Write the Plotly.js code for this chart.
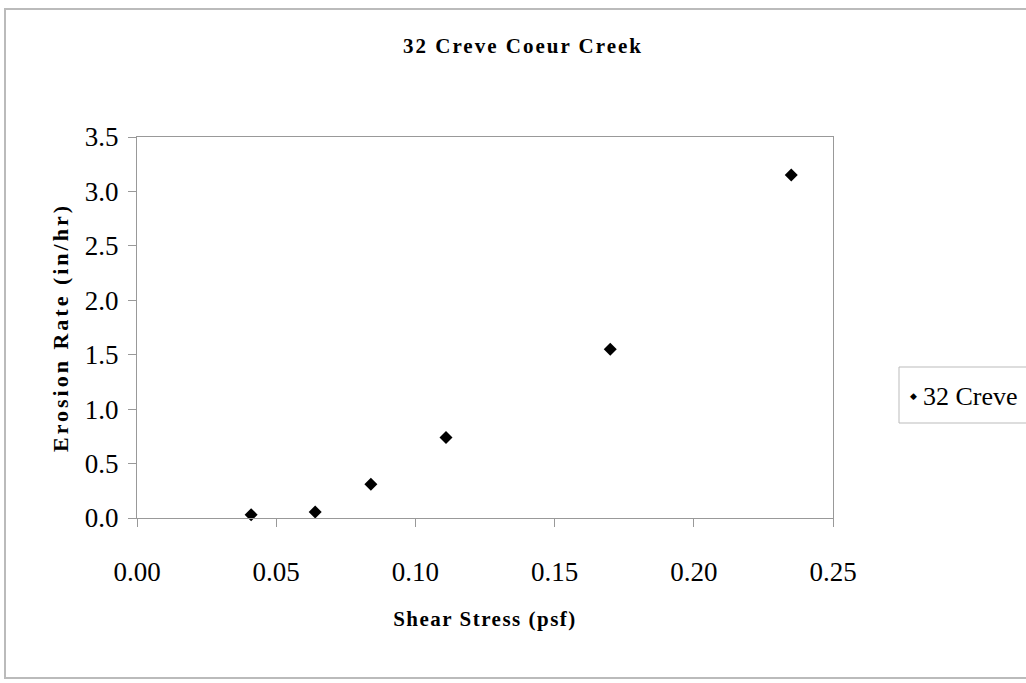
<!DOCTYPE html>
<html>
<head>
<meta charset="utf-8">
<script src="https://cdn.plot.ly/plotly-3.0.1.min.js"></script>
<style>
html,body{margin:0;padding:0;background:#fff;}
#chart{width:1026px;height:683px;}
.gtitle{letter-spacing:2px;}
.xtitle{letter-spacing:1.5px;}
.ytitle{letter-spacing:3px;}
</style>
</head>
<body>
<div id="chart"></div>
<script>
// Data
const seriesName = "32 Creve Coeur Creek";
const legendVisibleLabel = "32 Creve";   // the legend is cut at the page edge in the reference
const shearStress = [0.041, 0.064, 0.084, 0.111, 0.170, 0.235];   // psf
const erosionRate = [0.03, 0.055, 0.31, 0.74, 1.55, 3.15];          // in/hr
const xTickVals = [0, 0.05, 0.10, 0.15, 0.20, 0.25];
const xTickText = ["0.00", "0.05", "0.10", "0.15", "0.20", "0.25"];
const yTickVals = [0, 0.5, 1.0, 1.5, 2.0, 2.5, 3.0, 3.5];
const yTickText = ["0.0", "0.5", "1.0", "1.5", "2.0", "2.5", "3.0", "3.5"];

const W = 1026, H = 683;
const L = 137, R = 193, T = 137, B = 165;
const pw = W - L - R, ph = H - T - B;
const px = v => (v - L) / pw;          // pixel -> paper x
const py = v => (H - B - v) / ph;      // pixel -> paper y

const serif = "Liberation Serif";

const trace = {
  type: "scatter",
  mode: "markers",
  name: seriesName,
  x: shearStress,
  y: erosionRate,
  marker: {symbol: "diamond", size: 10, color: "#000"},
  showlegend: false,
  cliponaxis: false
};

const layout = {
  width: W, height: H,
  margin: {l: L, r: R, t: T, b: B, pad: 0},
  paper_bgcolor: "#fff",
  plot_bgcolor: "#fff",
  showlegend: false,
  title: {
    text: "<b>32 Creve Coeur Creek</b>",
    font: {family: serif, size: 21, color: "#000"},
    x: 523 / W, xanchor: "center",
    y: 1 - 46 / H, yanchor: "middle"
  },
  xaxis: {
    range: [0, 0.25],
    tickvals: xTickVals, ticktext: xTickText,
    ticks: "outside", ticklen: 8, tickcolor: "#999", tickwidth: 1,
    ticklabelstandoff: 22,
    showline: true, linecolor: "#999", linewidth: 1, mirror: true,
    showgrid: false, zeroline: false,
    tickfont: {family: serif, size: 27, color: "#000"},
    title: {text: "<b>Shear Stress (psf)</b>", font: {family: serif, size: 21, color: "#000"}, standoff: 24}
  },
  yaxis: {
    range: [0, 3.5],
    tickvals: yTickVals, ticktext: yTickText,
    ticks: "outside", ticklen: 8, tickcolor: "#999", tickwidth: 1,
    ticklabelstandoff: 4,
    showline: true, linecolor: "#999", linewidth: 1, mirror: true,
    showgrid: false, zeroline: false,
    tickfont: {family: serif, size: 27, color: "#000"},
    title: {text: "<b>Erosion Rate (in/hr)</b>", font: {family: serif, size: 22, color: "#000"}, standoff: 10}
  },
  shapes: [
    {type: "rect", xref: "paper", yref: "paper",
     x0: px(5), x1: px(1040), y0: py(678), y1: py(9),
     line: {color: "#bbb", width: 2}, fillcolor: "rgba(0,0,0,0)", layer: "below"},
    {type: "rect", xref: "paper", yref: "paper",
     x0: px(899), x1: px(1040), y0: py(423), y1: py(367),
     line: {color: "#bbb", width: 1}, fillcolor: "#fff", layer: "below"}
  ],
  annotations: [
    {xref: "paper", yref: "paper", x: px(913), y: py(396),
     xanchor: "center", yanchor: "middle", showarrow: false,
     text: "◆", font: {family: "DejaVu Sans", size: 9, color: "#000"}},
    {xref: "paper", yref: "paper", x: px(921), y: py(396),
     xanchor: "left", yanchor: "middle", showarrow: false, align: "left",
     text: legendVisibleLabel,
     font: {family: serif, size: 26, color: "#000"}}
  ]
};

Plotly.newPlot("chart", [trace], layout, {displayModeBar: false, staticPlot: true});
</script>
</body>
</html>
